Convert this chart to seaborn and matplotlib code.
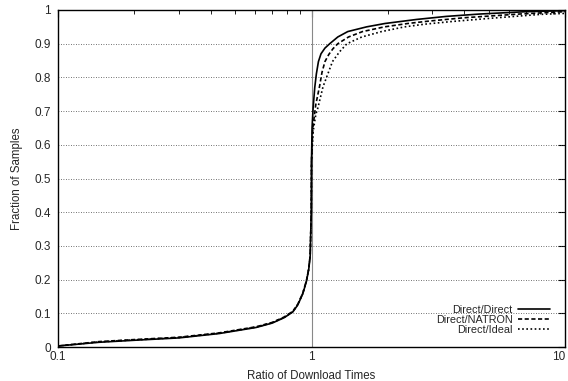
import numpy as np
import pandas as pd
import matplotlib
matplotlib.use("Agg")
import matplotlib.pyplot as plt
import seaborn as sns
from matplotlib.ticker import FixedLocator, NullFormatter, LogLocator

# Data (ratio, cumulative fraction)
# shared lower part of the distributions (ratio < 1)
left_x = [0.1, 0.145, 0.2, 0.3, 0.433, 0.605, 0.7, 0.78, 0.844, 0.883, 0.924, 0.955, 0.975, 0.988, 0.998]
left_y = [0.003, 0.014, 0.02, 0.027, 0.04, 0.058, 0.071, 0.087, 0.104, 0.125, 0.158, 0.195, 0.23, 0.27, 0.4]

dd_x = [1.0, 1.005, 1.015, 1.03, 1.045, 1.065, 1.09, 1.13, 1.18, 1.27, 1.39, 1.65, 1.95, 2.6, 3.4, 4.6, 7.0, 10]
dd_y = [0.55, 0.65, 0.71, 0.77, 0.81, 0.847, 0.87, 0.887, 0.9, 0.92, 0.936, 0.95, 0.96, 0.972, 0.981, 0.988, 0.995, 0.998]

dn_x = [1.0, 1.012, 1.04, 1.075, 1.10, 1.13, 1.17, 1.215, 1.27, 1.4, 1.59, 1.94, 2.4, 2.9, 4.0, 6.6, 10]
dn_y = [0.55, 0.65, 0.72, 0.772, 0.815, 0.847, 0.868, 0.885, 0.9, 0.92, 0.936, 0.95, 0.96, 0.967, 0.977, 0.988, 0.995]

di_x = [1.0, 1.015, 1.04, 1.06, 1.11, 1.21, 1.29, 1.38, 1.58, 1.89, 2.33, 2.8, 3.6, 5.2, 8.0, 10]
di_y = [0.55, 0.64, 0.69, 0.71, 0.772, 0.847, 0.876, 0.9, 0.92, 0.936, 0.95, 0.958, 0.966, 0.976, 0.987, 0.99]

left_offsets = {"Direct/Direct": 0.0, "Direct/NATRON": 0.002, "Direct/Ideal": 0.001}

series = {
    "Direct/Direct": (dd_x, dd_y),
    "Direct/NATRON": (dn_x, dn_y),
    "Direct/Ideal": (di_x, di_y),
}

y_ticks = [0, 0.1, 0.2, 0.3, 0.4, 0.5, 0.6, 0.7, 0.8, 0.9, 1]
y_tick_labels = ["0", "0.1", "0.2", "0.3", "0.4", "0.5", "0.6", "0.7", "0.8", "0.9", "1"]
x_ticks = [0.1, 1, 10]
x_tick_labels = ["0.1", "1", "10"]

rows = []
for name, (xs, ys) in series.items():
    for x, y in zip(left_x, left_y):
        rows.append((name, x, y + left_offsets[name] * (y > 0.01)))
    for x, y in zip(xs, ys):
        rows.append((name, x, y))
df = pd.DataFrame(rows, columns=["series", "ratio", "frac"])

sns.set_style("white")
plt.rcParams["font.family"] = ["Liberation Sans", "DejaVu Sans"]

fig = plt.figure(figsize=(5.68, 3.81), dpi=100)
ax = fig.add_axes([58/568, 1 - 347/381, (565 - 58)/568, (347 - 10)/381])

# grid
for yv in y_ticks[1:-1]:
    ax.axhline(yv, color="#444444", lw=0.6, ls=(0, (1, 2)), zorder=1)
ax.axvline(1, color="#888888", lw=0.8, zorder=1)

styles = {"Direct/Direct": "-", "Direct/NATRON": (0, (2.5, 1.5)), "Direct/Ideal": (0, (1, 1.5))}
for name in series:
    sub = df[df["series"] == name]
    sns.lineplot(data=sub, x="ratio", y="frac", ax=ax, estimator=None, sort=False,
                 color="black", lw=1.2, linestyle=styles[name], label=name, zorder=3)

ax.set_xscale("log")
ax.set_xlim(0.1, 10)
ax.set_ylim(0, 1)
ax.xaxis.set_major_locator(FixedLocator(x_ticks))
ax.set_xticklabels(x_tick_labels)
ax.get_xticklabels()[-1].set_ha("right")
ax.xaxis.set_minor_locator(LogLocator(base=10, subs=np.arange(2, 10)))
ax.xaxis.set_minor_formatter(NullFormatter())
ax.set_yticks(y_ticks)
ax.set_yticklabels(y_tick_labels)
ax.tick_params(which="both", direction="in", top=True, right=True, labelsize=8.5, color="black")
ax.tick_params(which="major", length=5, width=0.8)
ax.tick_params(which="minor", length=3, width=0.6)
ax.tick_params(axis="y", pad=5)
ax.tick_params(axis="x", pad=3)
for s in ax.spines.values():
    s.set_color("black")
    s.set_linewidth(1.0)

ax.set_xlabel("Ratio of Download Times", fontsize=8.3, labelpad=5)
ax.set_ylabel("Fraction of Samples", fontsize=8.3, labelpad=8)

leg = ax.legend(loc="lower right", bbox_to_anchor=(0.982, 0.02), frameon=False, markerfirst=False,
                fontsize=7.8, labelspacing=0.0, handlelength=3.0, handletextpad=0.5, borderpad=0.0)

fig.savefig("out.png", dpi=100)
